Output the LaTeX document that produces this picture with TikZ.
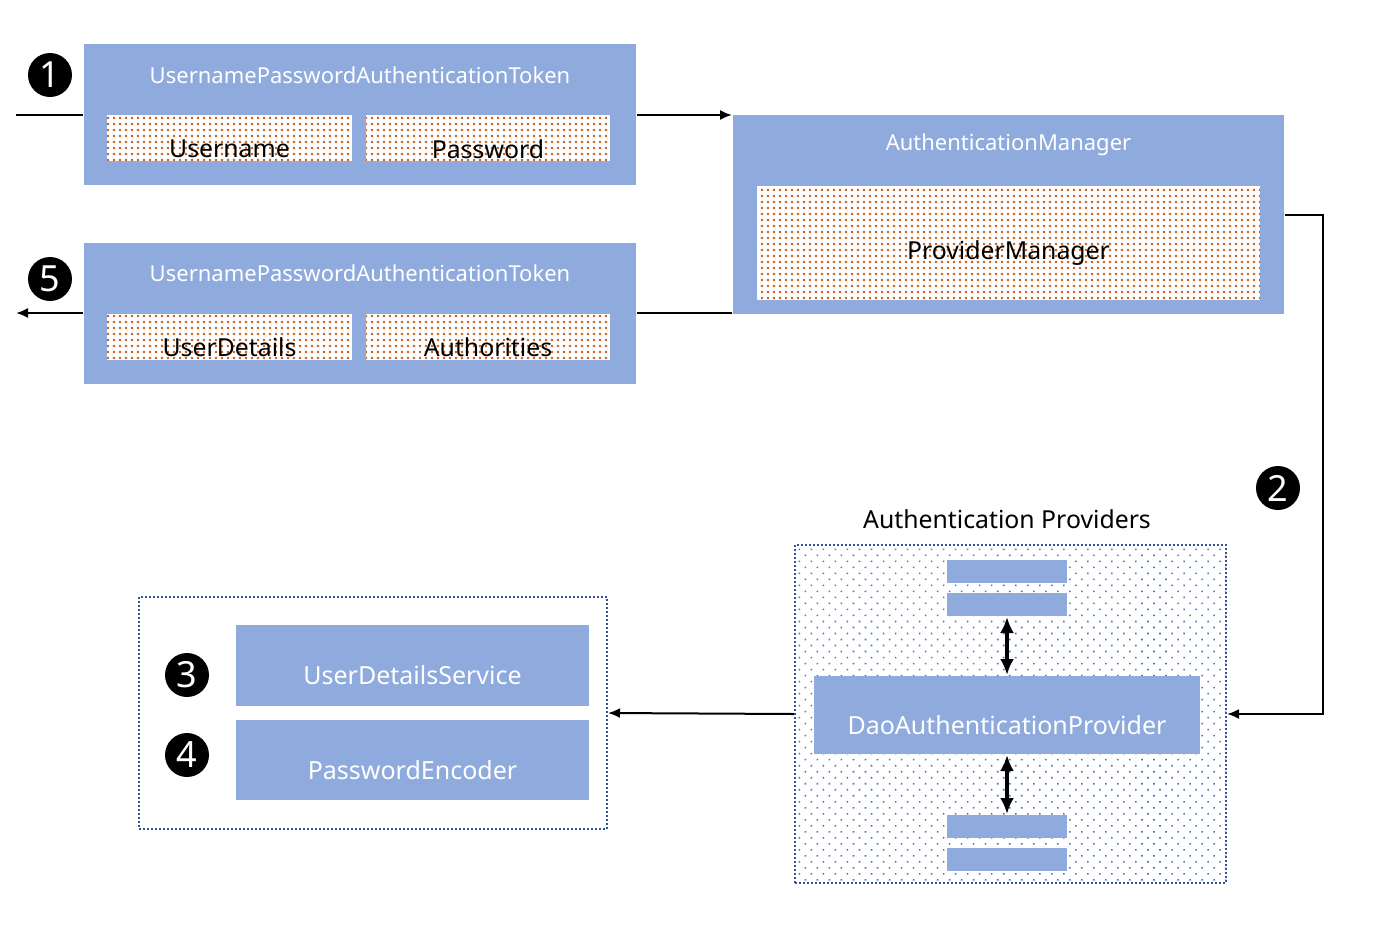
\documentclass[tikz,border=0pt]{standalone}
\usepackage{fontspec}
\setmainfont{Noto Sans}
\usetikzlibrary{patterns.meta,arrows.meta}

\definecolor{boxblue}{HTML}{8FAADC}
\definecolor{dotorange}{HTML}{C55A11}
\definecolor{dotblue}{HTML}{4472C4}
\definecolor{edgeblue}{HTML}{2F5597}

\begin{document}
\begin{tikzpicture}[>={Latex[length=6pt,width=5pt]},x=0.5pt,y=-0.5pt,line width=1pt,
  box/.style={fill=boxblue,inner sep=0pt},
  field/.style={inner sep=0pt,preaction={fill=white},
    pattern={Dots[distance=3pt,radius=0.65pt]},pattern color=dotorange},
  groupbox/.style={inner sep=0pt,draw=edgeblue,densely dotted,fill=white},
  headtext/.style={text=white,font=\fontsize{11}{13}\selectfont},
  boxtext/.style={text=white,font=\fontsize{12.5}{15}\selectfont},
  fieldtext/.style={text=black,font=\fontsize{12.4}{14}\selectfont},
  num/.style={circle,fill=black,text=white,inner sep=0pt,minimum size=22pt,
    font=\fontsize{18}{18}\selectfont}]
  \useasboundingbox (0,0) rectangle (1376,928);

  % Request token
  \node[box,minimum width=276pt,minimum height=70.5pt] (tok1) at (360,114.5) {};
  \node[headtext] (tok1t) at (360,75) {UsernamePasswordAuthenticationToken};
  \node[field,minimum width=122.5pt,minimum height=23pt] (user) at (229.5,138) {};
  \node[field,minimum width=122pt,minimum height=23pt] (pass) at (488,138) {};
  \node[fieldtext] (usert) at (229.5,149) {Username};
  \node[fieldtext] (passt) at (488,149) {Password};

  % Result token
  \node[box,minimum width=276pt,minimum height=70.5pt] (tok2) at (360,313.5) {};
  \node[headtext] (tok2t) at (360,273) {UsernamePasswordAuthenticationToken};
  \node[field,minimum width=122.5pt,minimum height=23pt] (det) at (229.5,337) {};
  \node[field,minimum width=122pt,minimum height=23pt] (auth) at (488,337) {};
  \node[fieldtext] (dett) at (229.5,347) {UserDetails};
  \node[fieldtext] (autht) at (488,347) {Authorities};

  % Manager
  \node[box,minimum width=275.5pt,minimum height=99.5pt] (mgr) at (1008.5,214.5) {};
  \node[headtext] (mgrt) at (1008.5,145) {AuthenticationManager};
  \node[field,minimum width=251.5pt,minimum height=57pt] (pm) at (1008.5,243) {};
  \node[fieldtext] (pmt) at (1008.5,253) {ProviderManager};

  % Providers
  \node[groupbox,minimum width=215.5pt,minimum height=169pt,
    postaction={pattern={Dots[distance=4.25pt,angle=45,radius=0.55pt]},pattern color=dotblue}]
    (prov) at (1010.5,714) {};
  \node[fieldtext] (provt) at (1007,519) {Authentication Providers};
  \node[box,minimum width=60pt,minimum height=11.5pt] (p1) at (1007,571.5) {};
  \node[box,minimum width=60pt,minimum height=11.5pt] (p2) at (1007,604.5) {};
  \node[box,minimum width=193pt,minimum height=39pt] (dao) at (1007,715) {};
  \node[boxtext] (daot) at (1007,725) {DaoAuthenticationProvider};
  \node[box,minimum width=60pt,minimum height=11.5pt] (p3) at (1007,826.5) {};
  \node[box,minimum width=60pt,minimum height=11.5pt] (p4) at (1007,859.5) {};

  % User lookup
  \node[groupbox,minimum width=234pt,minimum height=116pt] (look) at (373,713) {};
  \node[box,minimum width=176.5pt,minimum height=40.5pt] (uds) at (412.5,665.5) {};
  \node[boxtext] (udst) at (412.5,675) {UserDetailsService};
  \node[box,minimum width=176.5pt,minimum height=40pt] (enc) at (412.5,760) {};
  \node[boxtext] (enct) at (412.5,770) {PasswordEncoder};

  % Steps
  \node[num] (n1) at (50,75) {1};
  \node[num] (n2) at (1278,488) {2};
  \node[num] (n3) at (187,675) {3};
  \node[num] (n4) at (187,755) {4};
  \node[num] (n5) at (50,279) {5};

  % Flow
  \coordinate (in) at (16,115);
  \coordinate (out) at (16,313);
  \draw (in) -- (in -| tok1.west);
  \draw[->] (in -| tok1.east) -- (in -| mgr.west);
  \draw (out -| mgr.west) -- (out -| tok2.east);
  \draw[->] (out -| tok2.west) -- (out);
  \draw[->] (mgr.east) -- ++(38,0) |- (prov.east);
  \draw[->] (prov.west) -- (look.east);
  \draw[<->,>={Latex[length=8pt,width=7pt]},line width=1.6pt] (p2.south) -- (dao.north);
  \draw[<->,>={Latex[length=8pt,width=7pt]},line width=1.6pt] (dao.south) -- (p3.north);
\end{tikzpicture}
\end{document}
